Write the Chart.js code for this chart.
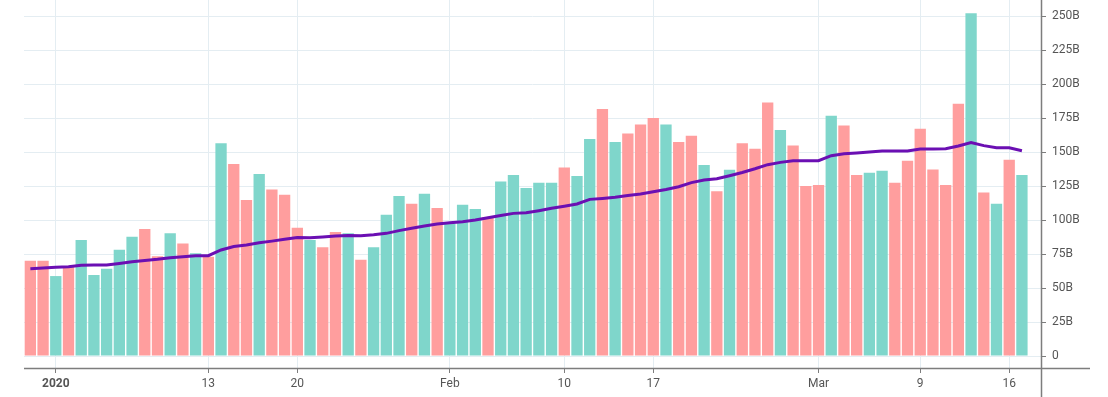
<!DOCTYPE html>
<html>
<head>
<meta charset="utf-8">
<script src="https://cdn.jsdelivr.net/npm/chart.js@4"></script>
<style>
  html, body { margin: 0; padding: 0; background: #fff; }
  #wrap { width: 1108px; height: 397px; }
</style>
</head>
<body>
<div id="wrap"><canvas id="volChart"></canvas></div>
<script>
// daily volume, in billions, starting 2019-12-30
const startDay = '2019-12-30';
const volume = [
    70, 70, 58.8, 65.7, 85.3, 59.6, 64.2, 78.2, 87.7, 93.4,
    73.3, 90.2, 82.8, 75.5, 73, 156.4, 141.2, 114.7, 133.8, 122.5,
    118.6, 94.4, 85.3, 79.9, 91.2, 90.2, 70.8, 79.9, 103.9, 117.6,
    112, 119.4, 108.8, 97.5, 111.3, 108.1, 102, 128.4, 133.1, 123.5,
    127.5, 127.5, 138.7, 132.4, 159.6, 181.6, 157.4, 163.7, 170.3, 175,
    170.3, 157.4, 162, 140.4, 121.1, 137, 156.4, 152.5, 186.5, 166.2,
    154.9, 125, 125.7, 176.7, 169.6, 133.1, 134.8, 136.3, 127.5, 143.6,
    167.1, 137.2, 125.7, 185.5, 252, 120.3, 112, 144.4, 133.1
];
// u = up day (teal), d = down day (red)
const direction = ('dduduuuuud' + 'dudududdud' + 'ddudduduuu' + 'duduuuduuu' +
    'uuduududdd' + 'uddududddu' + 'dddudduudd' + 'ddddududu').split('');
// moving average of the volume
const movingAvg = [
    64.2, 64.7, 65.2, 65.7, 66.7, 66.9, 66.9, 68.1, 69.4, 70.3,
    71.1, 72.3, 73.0, 73.8, 73.8, 78.0, 80.5, 81.6, 83.3, 84.5,
    85.8, 87.2, 87.0, 87.5, 88.2, 88.7, 88.5, 89.2, 90.2, 92.2,
    93.9, 95.6, 97.1, 98.0, 98.8, 100.0, 101.7, 103.4, 104.9, 105.4,
    106.9, 108.6, 110.1, 111.8, 115.2, 115.9, 116.7, 118.1, 119.1, 120.8,
    122.5, 124.5, 127.5, 129.4, 130.4, 132.6, 135.0, 137.7, 140.7, 142.4,
    143.6, 143.6, 143.6, 147.3, 148.8, 149.3, 150.0, 150.7, 150.7, 150.7,
    152.2, 152.2, 152.4, 154.4, 156.9, 154.7, 153.2, 153.2, 151.0
];

const tickDates = ['2020-01-01', '2020-01-13', '2020-01-20', '2020-02-01', '2020-02-10',
    '2020-02-17', '2020-03-01', '2020-03-09', '2020-03-16'];
const tickText = ['2020', '13', '20', 'Feb', '10', '17', 'Mar', '9', '16'];
const yTicks = [0, 25, 50, 75, 100, 125, 150, 175, 200, 225, 250];

// one date string per bar
const dates = volume.map((v, i) => {
    const d = new Date(startDay + 'T00:00:00Z');
    d.setUTCDate(d.getUTCDate() + i);
    return d.toISOString().slice(0, 10);
});
const tickIdx = tickDates.map(t => dates.indexOf(t));

const UP = '#7fd6cb';
const DOWN = '#ff9e9e';
const AXIS = '#7d7d7d';
const GRID = '#e4edf2';

// the two axis lines run past the plot like in the original
const axisLines = {
    id: 'axisLines',
    afterDraw(chart) {
        const c = chart.ctx;
        const a = chart.chartArea;
        c.save();
        c.strokeStyle = AXIS;
        c.lineWidth = 1.5;
        c.beginPath();
        c.moveTo(a.left, a.bottom + 0.5);
        c.lineTo(1090, a.bottom + 0.5);
        c.moveTo(a.right + 0.5, 0);
        c.lineTo(a.right + 0.5, chart.height);
        c.stroke();
        c.restore();
    }
};

// no extra room for half labels at the ends of the axes
function noPad(axis) {
    axis.paddingTop = 0;
    axis.paddingBottom = 0;
    axis.paddingLeft = 0;
    axis.paddingRight = 0;
}

const ctx = document.getElementById('volChart').getContext('2d');
new Chart(ctx, {
    data: {
        datasets: [
            {
                type: 'line',
                data: movingAvg.map((v, i) => ({ x: i, y: v })),
                borderColor: '#6b0fb3',
                borderWidth: 3,
                pointRadius: 0,
                tension: 0,
                order: 0
            },
            {
                type: 'bar',
                data: volume.map((v, i) => ({ x: i, y: v })),
                backgroundColor: direction.map(d => d === 'u' ? UP : DOWN),
                barPercentage: 0.89,
                categoryPercentage: 1,
                order: 1
            }
        ]
    },
    options: {
        responsive: true,
        maintainAspectRatio: false,
        animation: false,
        layout: { padding: { left: 24, top: 0, right: 0, bottom: 0 } },
        plugins: {
            legend: { display: false },
            tooltip: { enabled: false }
        },
        scales: {
            x: {
                type: 'linear',
                min: -0.5,
                max: 79.5,
                offset: false,
                afterBuildTicks: axis => { axis.ticks = tickIdx.map(v => ({ value: v })); },
                afterFit: axis => { axis.height = 29; noPad(axis); },
                border: { display: false },
                grid: { offset: false, color: GRID, tickColor: AXIS, tickLength: 5, lineWidth: 1 },
                ticks: {
                    autoSkip: false,
                    maxRotation: 0,
                    padding: 4,
                    color: '#555',
                    font: c => ({ family: 'Roboto', size: 12, weight: c.tick && c.tick.value === tickIdx[0] ? 'bold' : 'normal' }),
                    callback: v => tickText[tickIdx.indexOf(v)]
                }
            },
            y: {
                position: 'right',
                min: -8.8,
                max: 261.8,
                afterBuildTicks: axis => { axis.ticks = yTicks.map(v => ({ value: v })); },
                afterFit: axis => { axis.width = 67; noPad(axis); },
                border: { display: false },
                grid: { color: GRID, tickColor: AXIS, tickLength: 5, lineWidth: 1 },
                ticks: {
                    padding: 6,
                    color: '#555',
                    font: { family: 'Roboto', size: 12 },
                    callback: v => v === 0 ? '0' : v + 'B'
                }
            }
        }
    },
    plugins: [axisLines]
});
</script>
</body>
</html>
